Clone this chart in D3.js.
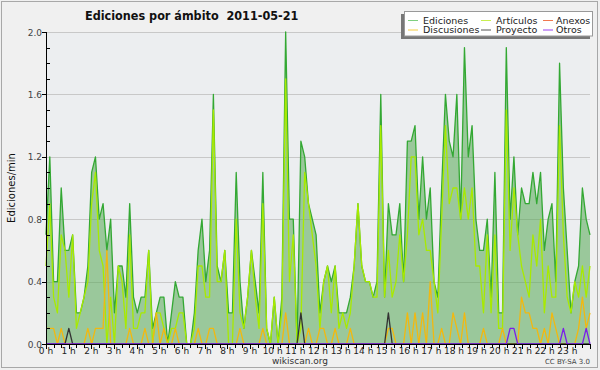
<!DOCTYPE html>
<html>
<head>
<meta charset="utf-8">
<script src="https://cdn.jsdelivr.net/npm/d3@7/dist/d3.min.js"></script>
<style>
  body { margin: 0; background: #fff; }
  svg { display: block; }
  text { font-family: "DejaVu Sans", sans-serif; }
</style>
</head>
<body>
<svg id="chart"></svg>
<script>
// ediciones por intervalo de 10 min (ediciones/min), 0h00 -> 23h50
const ediciones = [
  0.7, 1.2, 0.4, 0.4, 1.0, 0.6, 0.6, 0.7, 0.2, 0.2,
  0.3, 0.5, 1.1, 1.2, 0.8, 0.9, 0.6, 0.8, 0.2, 0.5,
  0.5, 0.3, 0.9, 0.3, 0.2, 0.3, 0.3, 0.6, 0.1, 0.2,
  0.3, 0.3, 0.0, 0.2, 0.4, 0.3, 0.3, 0.0, 0.0, 0.2,
  0.6, 0.8, 0.4, 0.6, 1.6, 0.5, 0.4, 0.6, 0.2, 0.2,
  1.1, 0.4, 0.1, 0.3, 0.6, 0.4, 0.2, 1.1, 0.1, 0.0,
  0.3, 0.0, 0.3, 2.0, 0.8, 0.8, 0.0, 1.3, 1.2, 0.9,
  0.8, 0.7, 0.2, 0.4, 0.5, 0.4, 0.5, 0.2, 0.2, 0.2,
  0.3, 0.5, 0.9, 0.5, 0.4, 0.4, 0.3, 0.4, 1.6, 0.3,
  0.9, 0.7, 0.7, 0.9, 0.4, 1.3, 1.3, 1.4, 0.8, 1.2,
  0.8, 1.0, 0.4, 0.3, 1.0, 1.6, 1.3, 1.2, 1.6, 0.8,
  1.9, 1.2, 1.4, 0.8, 0.6, 0.6, 0.8, 0.3, 1.1, 0.2,
  0.2, 1.9, 0.8, 1.2, 0.7, 1.0, 0.9, 0.9, 1.1, 0.9,
  1.1, 0.6, 0.8, 0.9, 0.4, 1.8, 1.0, 0.6, 0.2, 0.4,
  0.5, 1.0, 0.8, 0.7
];
const articulos = [
  0.5, 0.9, 0.3, 0.2, 0.7, 0.6, 0.3, 0.7, 0.1, 0.2,
  0.3, 0.4, 0.9, 1.1, 0.6, 0.5, 0.0, 0.3, 0.0, 0.5,
  0.4, 0.1, 0.7, 0.1, 0.1, 0.2, 0.2, 0.6, 0.0, 0.2,
  0.2, 0.1, 0.0, 0.1, 0.1, 0.2, 0.2, 0.0, 0.0, 0.1,
  0.5, 0.5, 0.3, 0.3, 1.5, 0.4, 0.4, 0.6, 0.0, 0.0,
  0.8, 0.2, 0.1, 0.3, 0.6, 0.3, 0.1, 0.9, 0.1, 0.0,
  0.3, 0.0, 0.2, 1.7, 0.4, 0.7, 0.0, 0.1, 1.1, 0.9,
  0.7, 0.5, 0.1, 0.4, 0.5, 0.2, 0.5, 0.1, 0.2, 0.1,
  0.2, 0.5, 0.9, 0.5, 0.4, 0.4, 0.3, 0.3, 1.4, 0.3,
  0.6, 0.3, 0.4, 0.7, 0.4, 0.7, 1.2, 1.2, 0.7, 0.8,
  0.6, 0.6, 0.4, 0.2, 0.8, 1.4, 0.9, 1.0, 1.0, 0.8,
  1.0, 0.8, 1.0, 0.5, 0.5, 0.2, 0.7, 0.2, 0.7, 0.1,
  0.1, 1.5, 0.6, 1.0, 0.7, 0.5, 0.4, 0.3, 0.7, 0.5,
  0.8, 0.2, 0.5, 0.3, 0.3, 1.4, 0.7, 0.3, 0.2, 0.4,
  0.3, 0.5, 0.3, 0.5
];
const discusiones = [
  0.1, 0.1, 0.1, 0.0, 0.1, 0.0, 0.0, 0.0, 0.0, 0.0,
  0.0, 0.1, 0.0, 0.1, 0.1, 0.1, 0.6, 0.0, 0.0, 0.0,
  0.0, 0.0, 0.1, 0.0, 0.0, 0.0, 0.1, 0.0, 0.0, 0.2,
  0.0, 0.1, 0.0, 0.0, 0.1, 0.0, 0.0, 0.0, 0.0, 0.0,
  0.1, 0.0, 0.0, 0.1, 0.1, 0.0, 0.0, 0.0, 0.0, 0.0,
  0.0, 0.1, 0.0, 0.0, 0.0, 0.0, 0.0, 0.1, 0.0, 0.0,
  0.0, 0.0, 0.0, 0.2, 0.0, 0.0, 0.0, 0.0, 0.0, 0.1,
  0.0, 0.0, 0.1, 0.1, 0.0, 0.0, 0.1, 0.0, 0.0, 0.0,
  0.1, 0.0, 0.0, 0.0, 0.0, 0.0, 0.0, 0.0, 0.0, 0.0,
  0.1, 0.1, 0.0, 0.0, 0.0, 0.2, 0.0, 0.2, 0.0, 0.2,
  0.0, 0.4, 0.0, 0.0, 0.1, 0.0, 0.0, 0.2, 0.1, 0.0,
  0.2, 0.0, 0.0, 0.0, 0.0, 0.1, 0.0, 0.0, 0.0, 0.0,
  0.1, 0.0, 0.0, 0.0, 0.0, 0.3, 0.2, 0.2, 0.1, 0.1,
  0.0, 0.1, 0.0, 0.2, 0.1, 0.0, 0.0, 0.0, 0.0, 0.0,
  0.1, 0.3, 0.1, 0.2
];
const proyecto = [
  0.0, 0.0, 0.0, 0.0, 0.0, 0.0, 0.1, 0.0, 0.0, 0.0,
  0.0, 0.0, 0.0, 0.0, 0.0, 0.0, 0.0, 0.0, 0.0, 0.0,
  0.0, 0.0, 0.0, 0.0, 0.0, 0.0, 0.0, 0.0, 0.0, 0.0,
  0.0, 0.0, 0.0, 0.0, 0.0, 0.0, 0.0, 0.0, 0.0, 0.0,
  0.0, 0.0, 0.0, 0.0, 0.0, 0.0, 0.0, 0.0, 0.0, 0.0,
  0.0, 0.0, 0.0, 0.0, 0.0, 0.0, 0.0, 0.0, 0.0, 0.0,
  0.0, 0.0, 0.0, 0.0, 0.0, 0.0, 0.0, 0.2, 0.0, 0.0,
  0.0, 0.0, 0.0, 0.0, 0.0, 0.0, 0.0, 0.0, 0.0, 0.0,
  0.0, 0.0, 0.0, 0.0, 0.0, 0.0, 0.0, 0.0, 0.0, 0.0,
  0.2, 0.0, 0.0, 0.0, 0.0, 0.0, 0.0, 0.0, 0.0, 0.0,
  0.0, 0.0, 0.0, 0.0, 0.0, 0.0, 0.0, 0.0, 0.0, 0.0,
  0.0, 0.0, 0.0, 0.0, 0.0, 0.0, 0.0, 0.0, 0.0, 0.0,
  0.0, 0.0, 0.0, 0.0, 0.0, 0.0, 0.0, 0.0, 0.0, 0.0,
  0.0, 0.0, 0.0, 0.0, 0.0, 0.0, 0.0, 0.0, 0.0, 0.0,
  0.0, 0.0, 0.0, 0.0
];
const otros = [
  0.0, 0.0, 0.0, 0.0, 0.0, 0.0, 0.0, 0.0, 0.0, 0.0,
  0.0, 0.0, 0.0, 0.0, 0.0, 0.0, 0.0, 0.0, 0.0, 0.0,
  0.0, 0.0, 0.0, 0.0, 0.0, 0.0, 0.0, 0.0, 0.0, 0.0,
  0.0, 0.0, 0.0, 0.0, 0.0, 0.0, 0.0, 0.0, 0.0, 0.0,
  0.0, 0.0, 0.0, 0.0, 0.0, 0.0, 0.0, 0.0, 0.0, 0.0,
  0.0, 0.0, 0.0, 0.0, 0.0, 0.0, 0.0, 0.0, 0.0, 0.0,
  0.0, 0.0, 0.0, 0.0, 0.0, 0.0, 0.0, 0.0, 0.0, 0.0,
  0.0, 0.0, 0.0, 0.0, 0.0, 0.0, 0.0, 0.0, 0.0, 0.0,
  0.0, 0.0, 0.0, 0.0, 0.0, 0.0, 0.0, 0.0, 0.0, 0.0,
  0.0, 0.0, 0.0, 0.0, 0.0, 0.0, 0.0, 0.0, 0.0, 0.0,
  0.0, 0.0, 0.0, 0.0, 0.0, 0.0, 0.0, 0.0, 0.0, 0.0,
  0.0, 0.0, 0.0, 0.0, 0.0, 0.0, 0.0, 0.0, 0.0, 0.0,
  0.0, 0.0, 0.1, 0.1, 0.0, 0.0, 0.0, 0.0, 0.0, 0.0,
  0.0, 0.0, 0.0, 0.0, 0.0, 0.0, 0.1, 0.0, 0.0, 0.0,
  0.0, 0.0, 0.1, 0.0
];
const hourTicks = d3.range(0, 24);          // etiquetas "0 h" ... "23 h"
const yTicks = [0.0, 0.4, 0.8, 1.2, 1.6, 2.0];
const legendNames  = ['Ediciones', 'Artículos', 'Anexos', 'Discusiones', 'Proyecto', 'Otros'];
const legendColors = ['#7fcf7f', '#c8ef50', '#f07850', '#f5cc40', '#555555', '#9a40f0'];

const W = 600, H = 370;
const pLeft = 46, pRight = 590, pTop = 32, pBottom = 344;

let svg = d3.select('#chart').attr('width', W).attr('height', H);

// fondo + marco
svg.append('rect').attr('width', W).attr('height', H).attr('fill', '#f0f0f0');
svg.append('rect')
  .attr('x', 1.5).attr('y', 1.5).attr('width', 596).attr('height', 366)
  .attr('fill', 'none').attr('stroke', '#a8a8a8');
svg.append('rect')
  .attr('x', pLeft).attr('y', pTop).attr('width', pRight - pLeft).attr('height', pBottom - pTop)
  .attr('fill', '#eceef0');

let xHour = d3.scaleLinear().domain([0, 24]).range([pLeft, pRight]);
let xIdx = d3.scaleLinear().domain([0, ediciones.length - 1]).range([pLeft, pRight]);
let y = d3.scaleLinear().domain([0, 2.0]).range([pBottom, pTop]);

// rejilla
svg.append('g').selectAll('line')
  .data(yTicks.filter(d => d > 0))
  .enter().append('line')
  .attr('x1', pLeft).attr('x2', pRight)
  .attr('y1', d => Math.round(y(d)) + 0.5).attr('y2', d => Math.round(y(d)) + 0.5)
  .attr('stroke', '#c8c8c8');

// área de ediciones
let area = d3.area()
  .x((d, i) => xIdx(i))
  .y0(pBottom)
  .y1(d => y(d));
svg.append('path').datum(ediciones)
  .attr('d', area)
  .attr('fill', 'rgb(88,170,86)').attr('fill-opacity', 0.55);

let line = d3.line()
  .x((d, i) => xIdx(i))
  .y(d => y(d));

let series = [
  [ediciones, '#33a833'],
  [articulos, '#a8ea00'],
  [discusiones, '#f2b810'],
  [proyecto, '#333333'],
  [otros, '#7a1fe8']
];
series.forEach(s => {
  svg.append('path').datum(s[0])
    .attr('d', line)
    .attr('fill', 'none')
    .attr('stroke', s[1])
    .attr('stroke-width', 1.3)
    .attr('stroke-linejoin', 'round');
});

// eje Y
let yAxis = svg.append('g');
yAxis.append('line')
  .attr('x1', pLeft + 0.5).attr('x2', pLeft + 0.5).attr('y1', pTop).attr('y2', pBottom)
  .attr('stroke', '#000');
d3.range(0, 21).forEach(k => {
  let yy = Math.round(y(k / 10)) + 0.5;
  if (k % 4 === 0) {
    yAxis.append('line').attr('x1', pLeft - 4).attr('x2', pLeft).attr('y1', yy).attr('y2', yy).attr('stroke', '#000');
  } else {
    yAxis.append('line').attr('x1', pLeft).attr('x2', pLeft + 4).attr('y1', yy).attr('y2', yy).attr('stroke', '#000');
  }
});
yAxis.selectAll('text.ylab')
  .data(yTicks)
  .enter().append('text')
  .attr('class', 'ylab')
  .attr('x', pLeft - 4).attr('y', d => y(d) + 3.5)
  .attr('text-anchor', 'end')
  .attr('font-size', 9).attr('fill', '#444')
  .text(d => d.toFixed(1));

// eje X
let xAxis = svg.append('g');
xAxis.append('line')
  .attr('x1', pLeft).attr('x2', pRight).attr('y1', pBottom + 0.5).attr('y2', pBottom + 0.5)
  .attr('stroke', '#000');
d3.range(0, 73).forEach(k => {
  let xx = Math.round(xHour(k / 3)) + 0.5;
  xAxis.append('line')
    .attr('x1', xx).attr('x2', xx)
    .attr('y1', pBottom).attr('y2', pBottom + (k % 3 === 0 ? 5 : 4))
    .attr('stroke', '#000');
});
xAxis.selectAll('text.xlab')
  .data(hourTicks)
  .enter().append('text')
  .attr('class', 'xlab')
  .attr('x', d => xHour(d)).attr('y', pBottom + 10)
  .attr('text-anchor', 'middle')
  .attr('font-size', 9).attr('fill', '#222')
  .text(d => d + ' h');

// títulos
svg.append('text')
  .attr('x', 85).attr('y', 20)
  .attr('font-family', '"DejaVu Sans Condensed", "DejaVu Sans", sans-serif')
  .attr('font-stretch', 'condensed')
  .attr('font-size', 12.5).attr('font-weight', 'bold').attr('fill', '#111')
  .style('white-space', 'pre')
  .text('Ediciones por ámbito  2011-05-21');

svg.append('text')
  .attr('transform', `translate(15, ${(pTop + pBottom) / 2}) rotate(-90)`)
  .attr('text-anchor', 'middle')
  .attr('font-family', '"DejaVu Sans Mono", monospace')
  .attr('font-size', 10).attr('fill', '#111')
  .text('Ediciones/min');

svg.append('text')
  .attr('x', 300).attr('y', 364).attr('text-anchor', 'middle')
  .attr('font-size', 9).attr('fill', '#333')
  .text('wikiscan.org');
svg.append('text')
  .attr('x', 590).attr('y', 364).attr('text-anchor', 'end')
  .attr('font-size', 7).attr('fill', '#444')
  .text('CC BY-SA 3.0');

// leyenda
let lg = svg.append('g');
lg.append('rect').attr('x', 401).attr('y', 14).attr('width', 189).attr('height', 25).attr('fill', '#777');
lg.append('rect').attr('x', 404.5).attr('y', 11.5).attr('width', 188).attr('height', 24.5)
  .attr('fill', '#fff').attr('stroke', '#999');
let colX = [408, 481, 543];
let item = lg.selectAll('g.item')
  .data(legendNames)
  .enter().append('g')
  .attr('class', 'item')
  .attr('transform', (d, i) => `translate(${colX[i % 3]}, ${i < 3 ? 20 : 29.5})`);
item.append('line')
  .attr('x1', 0).attr('x2', 10).attr('y1', 0.5).attr('y2', 0.5)
  .attr('stroke', (d, i) => legendColors[i]);
item.append('text')
  .attr('x', (d, i) => i % 3 === 2 ? 13 : 15).attr('y', 3.5)
  .attr('font-size', 9.5).attr('fill', '#222')
  .text(d => d);
</script>
</body>
</html>
